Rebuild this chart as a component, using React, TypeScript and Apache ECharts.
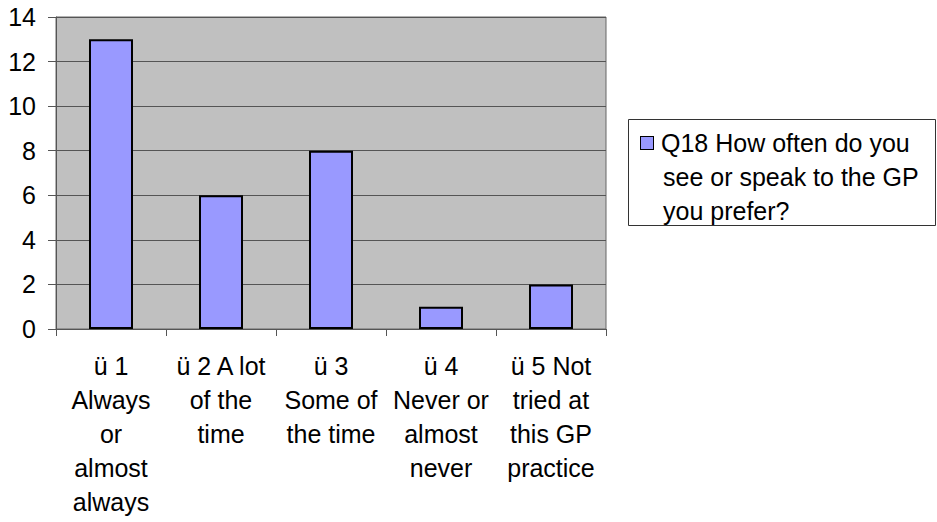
import React, { useEffect, useRef } from "react";
import * as echarts from "echarts";

const categories = [
  "ü 1\nAlways\nor\nalmost\nalways",
  "ü 2 A lot\nof the\ntime",
  "ü 3\nSome of\nthe time",
  "ü 4\nNever or\nalmost\nnever",
  "ü 5 Not\ntried at\nthis GP\npractice",
];
const seriesName = "Q18 How often do you see or speak to the GP you prefer?";
const legendLines = ["Q18 How often do you", "see or speak to the GP", "you prefer?"];
const values = [13, 6, 8, 1, 2];
const yMin = 0;
const yMax = 14;
const yInterval = 2;

const FONT = "'Liberation Sans', Arial, sans-serif";

export default function App() {
  const ref = useRef<HTMLDivElement>(null);
  useEffect(() => {
    document.body.style.margin = "0";
    const chart = echarts.init(ref.current!, null, { renderer: "svg" });
    chart.setOption({
      animation: false,
      backgroundColor: "#ffffff",
      textStyle: { fontFamily: FONT },
      grid: {
        left: 56,
        top: 17,
        right: 331,
        bottom: 193,
        show: true,
        backgroundColor: "#C0C0C0",
        borderColor: "#666666",
        borderWidth: 1,
      },
      xAxis: {
        type: "category",
        data: categories,
        axisLine: { lineStyle: { color: "#555555", width: 1 } },
        axisTick: { show: true, length: 7, lineStyle: { color: "#555555" } },
        axisLabel: {
          interval: 0,
          margin: 20,
          fontSize: 25,
          lineHeight: 34,
          color: "#000000",
          fontFamily: FONT,
          align: "center",
        },
      },
      yAxis: {
        type: "value",
        min: yMin,
        max: yMax,
        interval: yInterval,
        axisLine: { show: true, lineStyle: { color: "#555555", width: 1 } },
        axisTick: { show: true, length: 8, lineStyle: { color: "#555555" } },
        axisLabel: { margin: 20, fontSize: 25, color: "#000000", fontFamily: FONT },
        splitLine: { show: true, lineStyle: { color: "#555555", width: 1 } },
      },
      legend: {
        show: true,
        left: 636,
        top: 126,
        padding: 0,
        icon: "none",
        itemWidth: 0,
        itemHeight: 0,
        itemGap: 0,
        selectedMode: false,
        data: [seriesName],
        formatter: () =>
          legendLines
            .map((l, i) => (i === 0 ? "{sq|}{gap|}" + l : "{pad|}" + l))
            .join("\n"),
        textStyle: {
          fontSize: 25,
          lineHeight: 34,
          color: "#000000",
          fontFamily: FONT,
          padding: 0,
          rich: {
            sq: {
              width: 12,
              height: 12,
              backgroundColor: "#9999FF",
              borderColor: "#000000",
              borderWidth: 1,
              verticalAlign: "middle",
            },
            gap: { width: 8 },
            pad: { width: 22 },
          },
        },
      },
      graphic: [
        {
          type: "rect",
          shape: { x: 628.5, y: 119.5, width: 307, height: 106 },
          style: { fill: "none", stroke: "#333333", lineWidth: 1 },
          silent: true,
        },
      ],
      series: [
        {
          name: seriesName,
          type: "bar",
          data: values,
          barWidth: "40%",
          itemStyle: { color: "#9999FF", borderColor: "#000000", borderWidth: 2 },
        },
      ],
    });
    return () => chart.dispose();
  }, []);
  return <div ref={ref} style={{ width: 937, height: 522 }} />;
}
